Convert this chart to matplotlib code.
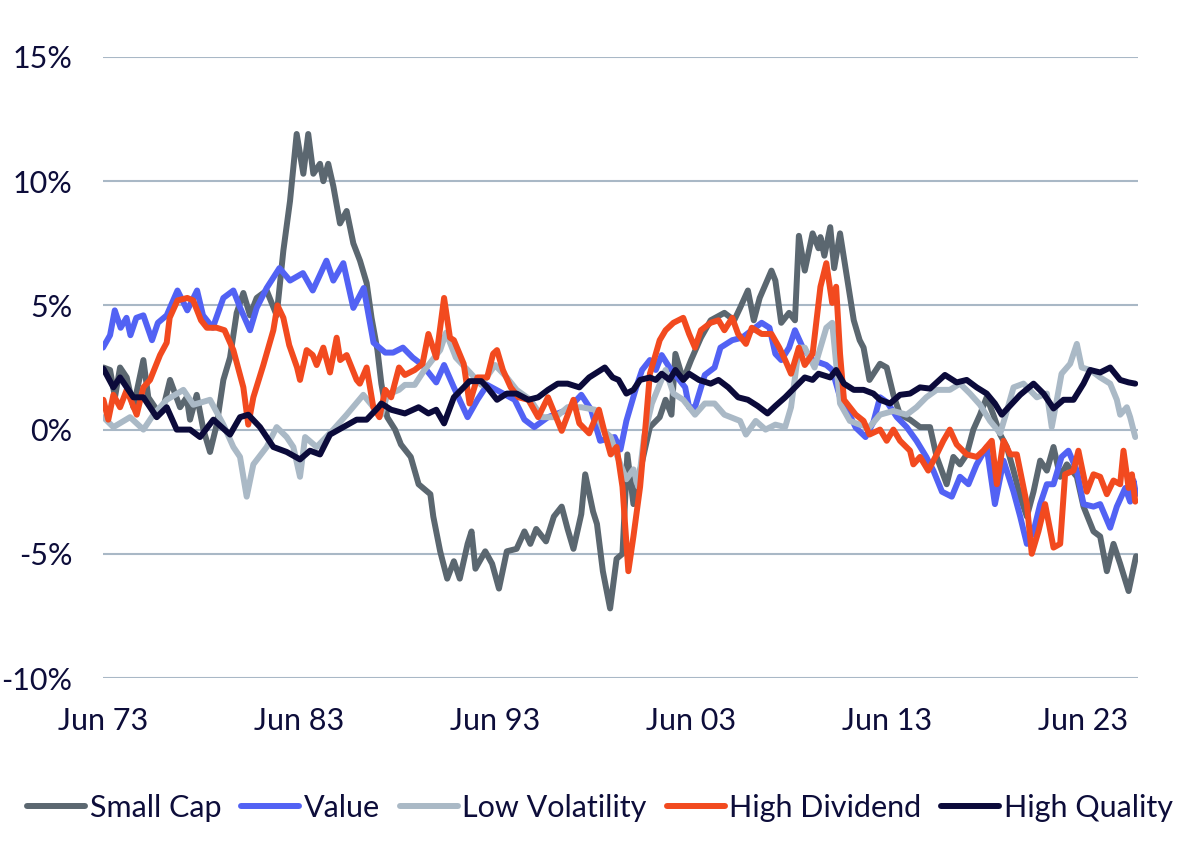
import matplotlib
matplotlib.use("Agg")
import matplotlib.pyplot as plt
from matplotlib.ticker import FuncFormatter

plt.rcParams['font.family'] = ['Lato', 'DejaVu Sans']

# rolling relative returns (x = year, y = %)
small_cap_x = [1973.52, 1973.86, 1974.11, 1974.37, 1974.71, 1975.05, 1975.56, 1975.81, 1976.24, 1976.58,
               1976.92, 1977.43, 1977.77, 1977.94, 1978.28, 1978.62, 1978.96, 1979.3, 1979.64, 1979.98,
               1980.32, 1980.66, 1981.0, 1981.34, 1981.85, 1982.36, 1982.7, 1983.04, 1983.38, 1983.72,
               1983.97, 1984.23, 1984.57, 1984.74, 1984.99, 1985.25, 1985.59, 1985.93, 1986.27, 1986.61,
               1986.95, 1987.2, 1987.5, 1987.7, 1988.0, 1988.4, 1988.7, 1989.2, 1989.6, 1990.2,
               1990.35, 1990.7, 1991.06, 1991.4, 1991.7, 1992.1, 1992.3, 1992.5, 1993.0, 1993.35,
               1993.7, 1994.1, 1994.6, 1995.0, 1995.3, 1995.6, 1996.1, 1996.5, 1996.9, 1997.2,
               1997.5, 1997.9, 1998.1, 1998.5, 1998.7, 1999.0, 1999.37, 1999.7, 2000.0, 2000.25,
               2000.56, 2000.9, 2001.4, 2001.9, 2002.2, 2002.5, 2002.7, 2003.1, 2003.5, 2004.0,
               2004.5, 2005.2, 2005.7, 2006.0, 2006.4, 2006.7, 2007.0, 2007.6, 2007.8, 2008.1,
               2008.5, 2008.8, 2009.0, 2009.3, 2009.7, 2010.0, 2010.1, 2010.3, 2010.6, 2010.8,
               2011.1, 2011.5, 2011.8, 2012.1, 2012.3, 2012.6, 2013.14, 2013.48, 2013.82, 2014.16,
               2014.67, 2015.18, 2015.69, 2016.03, 2016.54, 2016.88, 2017.22, 2017.56, 2017.9, 2018.24,
               2018.58, 2018.92, 2019.27, 2019.61, 2019.95, 2020.29, 2020.63, 2020.97, 2021.31, 2021.65,
               2021.99, 2022.33, 2022.67, 2023.18, 2023.52, 2024.03, 2024.37, 2024.71, 2025.05, 2025.39,
               2025.82, 2026.2]
small_cap_y = [2.5, 2.4, 1.3, 2.5, 2.1, 0.9, 2.8, 1.3, 0.8, 0.9,
               2.0, 0.9, 1.3, 0.4, 1.4, 0.0, -0.9, 0.2, 2.0, 2.9,
               4.7, 5.5, 4.6, 5.3, 5.6, 4.6, 7.2, 9.2, 11.9, 10.3,
               11.9, 10.3, 10.7, 10.0, 10.7, 9.8, 8.3, 8.8, 7.5, 6.8,
               5.9, 4.5, 3.2, 1.85, 0.5, 0.0, -0.6, -1.1, -2.2, -2.6,
               -3.5, -4.9, -6.0, -5.3, -6.0, -4.6, -4.1, -5.6, -4.9, -5.4,
               -6.4, -4.9, -4.8, -4.1, -4.6, -4.0, -4.5, -3.5, -3.1, -4.0,
               -4.8, -3.4, -1.8, -3.3, -3.8, -5.7, -7.2, -5.2, -5.0, -1.0,
               -3.0, -1.65, 0.1, 0.5, 1.2, 0.6, 3.05, 2.0, 2.8, 3.7,
               4.4, 4.7, 4.4, 4.9, 5.6, 4.4, 5.3, 6.4, 6.0, 4.3,
               4.7, 4.4, 7.8, 6.4, 7.9, 7.3, 7.75, 7.0, 8.15, 6.5,
               7.9, 5.9, 4.4, 3.6, 3.3, 2.0, 2.65, 2.5, 1.4, 0.6,
               0.4, 0.1, 0.1, -1.1, -2.2, -1.1, -1.4, -1.0, 0.0, 0.6,
               1.3, 0.6, -0.2, -0.7, -1.65, -2.7, -3.5, -2.5, -1.25, -1.65,
               -0.7, -1.9, -1.4, -1.9, -3.1, -4.1, -4.3, -5.7, -4.6, -5.4,
               -6.5, -5.1]

value_x = [1973.5, 1973.86, 1974.1, 1974.4, 1974.7, 1974.9, 1975.2, 1975.56, 1976.0, 1976.3,
           1976.75, 1977.3, 1977.8, 1978.3, 1978.6, 1979.1, 1979.64, 1980.15, 1980.5, 1981.0,
           1981.34, 1981.85, 1982.5, 1983.04, 1983.7, 1984.2, 1984.9, 1985.25, 1985.76, 1986.27,
           1986.8, 1987.3, 1987.9, 1988.3, 1988.8, 1989.3, 1989.8, 1990.5, 1990.9, 1991.4,
           1992.1, 1992.6, 1993.1, 1993.8, 1994.5, 1995.0, 1995.5, 1996.2, 1997.2, 1997.9,
           1998.4, 1998.86, 1999.1, 1999.6, 1999.9, 2000.2, 2000.7, 2001.0, 2001.4, 2001.7,
           2002.0, 2002.4, 2002.9, 2003.2, 2003.4, 2003.7, 2004.2, 2004.7, 2005.0, 2005.6,
           2006.1, 2006.6, 2007.1, 2007.5, 2007.8, 2008.1, 2008.5, 2008.8, 2009.2, 2009.7,
           2010.4, 2010.7, 2011.1, 2011.4, 2011.9, 2012.4, 2012.8, 2013.14, 2013.5, 2014.0,
           2014.5, 2015.0, 2015.5, 2015.86, 2016.3, 2016.8, 2017.22, 2017.65, 2018.07, 2018.58,
           2019.0, 2019.44, 2019.95, 2020.29, 2020.63, 2020.97, 2021.31, 2021.65, 2021.99, 2022.4,
           2022.75, 2023.18, 2023.52, 2024.03, 2024.37, 2024.88, 2025.22, 2025.65, 2025.9, 2026.07,
           2026.2]
value_y = [3.3, 3.8, 4.8, 4.1, 4.5, 3.8, 4.5, 4.6, 3.6, 4.3,
           4.6, 5.6, 4.8, 5.6, 4.6, 4.1, 5.3, 5.6, 4.9, 4.0,
           4.9, 5.7, 6.5, 6.0, 6.3, 5.6, 6.8, 6.0, 6.7, 4.9,
           5.7, 3.5, 3.1, 3.1, 3.3, 2.9, 2.6, 1.9, 2.6, 1.7,
           0.5, 1.2, 1.8, 1.5, 1.2, 0.4, 0.1, 0.5, 0.8, 1.4,
           0.8, -0.45, -0.4, -0.3, -0.8, 0.35, 1.7, 2.4, 2.8, 2.4,
           3.0, 2.5, 2.0, 1.7, 0.9, 0.9, 2.2, 2.5, 3.3, 3.6,
           3.7, 4.0, 4.3, 4.1, 3.05, 2.8, 3.3, 4.0, 3.3, 2.8,
           2.6, 2.4, 1.3, 0.9, 0.08, -0.3, 0.3, 1.3, 1.1, 0.5,
           0.1, -0.45, -1.1, -1.65, -2.5, -2.7, -1.9, -2.2, -1.4, -0.7,
           -3.0, -1.25, -2.5, -3.5, -4.6, -4.1, -3.0, -2.2, -2.2, -1.1,
           -0.85, -1.65, -3.0, -3.1, -3.0, -3.95, -3.1, -2.35, -2.9, -2.05,
           -2.6]

low_vol_x = [1973.52, 1974.03, 1974.88, 1975.56, 1976.07, 1976.75, 1977.6, 1978.11, 1978.96, 1979.64,
             1980.15, 1980.49, 1980.83, 1981.17, 1981.85, 1982.36, 1982.87, 1983.21, 1983.55, 1983.81,
             1984.4, 1985.25, 1985.93, 1986.78, 1987.3, 1987.7, 1988.0, 1988.6, 1988.9, 1989.4,
             1989.9, 1990.7, 1991.0, 1991.5, 1992.1, 1992.8, 1993.5, 1994.1, 1994.6, 1995.3,
             1995.9, 1996.6, 1997.2, 1997.9, 1998.6, 1999.0, 1999.4, 1999.7, 2000.2, 2000.56,
             2000.8, 2001.1, 2001.5, 2002.2, 2002.6, 2003.1, 2003.7, 2004.2, 2004.7, 2005.2,
             2006.0, 2006.3, 2006.8, 2007.3, 2007.8, 2008.3, 2008.6, 2009.0, 2009.3, 2009.8,
             2010.4, 2010.7, 2011.1, 2011.6, 2012.1, 2012.6, 2013.14, 2013.82, 2014.5, 2015.0,
             2015.5, 2016.03, 2016.7, 2017.22, 2017.73, 2018.24, 2018.75, 2019.27, 2019.61, 2019.95,
             2020.46, 2021.14, 2021.65, 2021.9, 2022.16, 2022.4, 2022.84, 2023.18, 2023.43, 2023.86,
             2024.37, 2024.88, 2025.22, 2025.39, 2025.73, 2025.9, 2026.16]
low_vol_y = [0.5, 0.1, 0.5, 0.0, 0.6, 1.2, 1.6, 1.0, 1.2, 0.2,
             -0.7, -1.1, -2.7, -1.4, -0.7, 0.1, -0.3, -0.7, -1.9, -0.3,
             -0.7, 0.0, 0.6, 1.4, 0.9, 0.6, 1.4, 1.6, 1.8, 1.8,
             2.4, 3.2, 3.9, 2.9, 2.4, 1.8, 2.6, 2.1, 1.6, 1.2,
             0.5, 0.5, 0.9, 0.9, 0.8, 0.0, -0.3, -1.0, -2.0, -1.6,
             -2.3, -0.3, 1.05, 2.4, 1.45, 1.2, 0.6, 1.05, 1.05, 0.6,
             0.35, -0.2, 0.35, 0.0, 0.2, 0.1, 0.9, 3.3, 3.3, 2.5,
             4.1, 4.3, 1.05, 0.35, 0.2, 0.1, 0.6, 0.75, 0.6, 0.9,
             1.3, 1.6, 1.6, 1.85, 1.45, 1.0, 0.35, -0.15, 0.75, 1.7,
             1.85, 1.3, 1.45, 0.1, 1.2, 2.25, 2.65, 3.45, 2.5, 2.4,
             2.1, 1.85, 1.2, 0.6, 0.9, 0.5, -0.3]

high_div_x = [1973.52, 1973.77, 1974.03, 1974.37, 1974.71, 1975.22, 1975.56, 1975.9, 1976.41, 1976.75,
              1976.9, 1977.3, 1977.8, 1978.1, 1978.5, 1978.8, 1979.3, 1979.7, 1980.15, 1980.66,
              1980.91, 1981.17, 1981.68, 1982.19, 1982.4, 1982.7, 1983.0, 1983.4, 1983.55, 1983.89,
              1984.2, 1984.4, 1984.74, 1985.08, 1985.42, 1985.6, 1985.93, 1986.44, 1986.6, 1986.95,
              1987.29, 1987.6, 1987.9, 1988.2, 1988.6, 1988.9, 1989.4, 1989.8, 1990.1, 1990.5,
              1990.9, 1991.2, 1991.4, 1991.9, 1992.2, 1992.6, 1993.1, 1993.4, 1993.6, 1993.9,
              1994.3, 1994.7, 1995.2, 1995.7, 1996.2, 1996.9, 1997.5, 1997.8, 1998.3, 1998.8,
              1999.1, 1999.4, 1999.7, 2000.0, 2000.3, 2000.56, 2000.9, 2001.2, 2001.4, 2001.7,
              2001.9, 2002.2, 2002.6, 2003.1, 2003.4, 2003.7, 2004.0, 2004.5, 2004.9, 2005.2,
              2005.6, 2005.9, 2006.3, 2006.6, 2007.1, 2007.6, 2008.0, 2008.3, 2008.6, 2009.0,
              2009.3, 2009.7, 2010.1, 2010.4, 2010.7, 2010.9, 2011.1, 2011.3, 2011.6, 2011.9,
              2012.3, 2012.6, 2013.14, 2013.48, 2013.82, 2014.16, 2014.67, 2014.84, 2015.18, 2015.6,
              2016.03, 2016.37, 2016.7, 2017.05, 2017.56, 2018.07, 2018.41, 2018.84, 2019.1, 2019.44,
              2019.78, 2020.12, 2020.63, 2020.88, 2021.22, 2021.56, 2021.99, 2022.33, 2022.58, 2023.01,
              2023.26, 2023.69, 2024.03, 2024.37, 2024.71, 2025.05, 2025.39, 2025.56, 2025.82, 2025.99,
              2026.16]
high_div_y = [1.2, 0.4, 1.4, 0.9, 1.6, 0.6, 1.7, 2.0, 3.0, 3.5,
              4.5, 5.2, 5.3, 5.2, 4.4, 4.1, 4.1, 4.0, 3.2, 1.7,
              0.2, 1.3, 2.6, 4.0, 5.0, 4.5, 3.4, 2.5, 2.0, 3.2,
              3.0, 2.6, 3.3, 2.3, 3.7, 2.8, 3.0, 2.0, 1.85, 2.5,
              0.9, 0.5, 1.6, 1.3, 2.5, 2.2, 2.4, 2.65, 3.85, 2.9,
              5.3, 3.7, 3.6, 2.65, 1.05, 2.1, 2.1, 3.05, 3.2, 2.4,
              1.7, 1.3, 1.2, 0.5, 1.3, -0.05, 1.2, 0.25, -0.15, 0.8,
              -0.15, -1.0, -0.7, -2.3, -5.7, -4.3, -2.3, 0.35, 2.25, 3.05,
              3.6, 4.0, 4.3, 4.5, 3.85, 3.3, 4.0, 4.3, 4.4, 4.0,
              4.5, 3.85, 3.45, 4.1, 3.85, 3.85, 3.3, 2.8, 2.25, 3.3,
              2.6, 3.05, 5.75, 6.7, 5.1, 5.75, 3.05, 1.2, 0.9, 0.6,
              0.35, -0.2, 0.0, -0.45, 0.0, -0.45, -0.85, -1.4, -1.1, -1.65,
              -1.0, -0.45, 0.0, -0.6, -1.0, -1.1, -0.85, -0.45, -2.2, -0.45,
              -1.0, -1.0, -3.0, -5.0, -4.1, -3.0, -4.75, -4.6, -1.8, -1.65,
              -0.85, -2.5, -1.8, -1.9, -2.6, -2.05, -2.2, -0.85, -2.35, -1.8,
              -2.9]

high_quality_x = [1973.52, 1974.03, 1974.37, 1975.05, 1975.56, 1976.24, 1976.75, 1977.26, 1977.94, 1978.45,
                  1979.13, 1979.98, 1980.49, 1980.91, 1981.51, 1982.19, 1982.87, 1983.55, 1984.06, 1984.57,
                  1985.08, 1985.76, 1986.44, 1986.95, 1987.55, 1987.7, 1988.2, 1988.9, 1989.6, 1990.1,
                  1990.5, 1990.9, 1991.4, 1991.9, 1992.2, 1992.8, 1993.1, 1993.6, 1994.1, 1994.6,
                  1995.2, 1995.7, 1996.2, 1996.7, 1997.2, 1997.8, 1998.3, 1998.8, 1999.1, 1999.5,
                  1999.8, 2000.2, 2000.56, 2000.9, 2001.4, 2001.7, 2002.0, 2002.4, 2002.7, 2003.1,
                  2003.4, 2003.9, 2004.5, 2004.9, 2005.4, 2005.9, 2006.4, 2006.9, 2007.4, 2007.8,
                  2008.3, 2008.8, 2009.3, 2009.7, 2010.0, 2010.6, 2010.9, 2011.3, 2011.8, 2012.3,
                  2012.8, 2013.14, 2013.65, 2014.16, 2014.67, 2015.18, 2015.69, 2016.45, 2017.05, 2017.56,
                  2018.07, 2018.58, 2019.0, 2019.35, 2019.7, 2020.29, 2020.97, 2021.48, 2021.99, 2022.5,
                  2023.01, 2023.52, 2023.86, 2024.37, 2024.88, 2025.39, 2025.82, 2026.16]
high_quality_y = [2.45, 1.7, 2.1, 1.3, 1.3, 0.5, 0.9, 0.0, 0.0, -0.3,
                  0.4, -0.2, 0.5, 0.6, 0.1, -0.7, -0.9, -1.2, -0.85, -1.0,
                  -0.2, 0.1, 0.4, 0.4, 0.9, 1.05, 0.8, 0.65, 0.9, 0.65,
                  0.8, 0.25, 1.3, 1.7, 1.95, 1.95, 1.7, 1.2, 1.45, 1.45,
                  1.2, 1.3, 1.6, 1.85, 1.85, 1.7, 2.1, 2.35, 2.5, 2.1,
                  2.0, 1.45, 1.6, 2.0, 2.1, 2.0, 2.25, 2.0, 2.4, 2.0,
                  2.25, 2.0, 1.85, 2.0, 1.7, 1.3, 1.2, 0.95, 0.65, 0.95,
                  1.3, 1.7, 2.1, 2.0, 2.25, 2.1, 2.4, 1.85, 1.6, 1.6,
                  1.45, 1.2, 1.05, 1.4, 1.45, 1.7, 1.65, 2.2, 1.9, 2.0,
                  1.7, 1.45, 1.05, 0.6, 0.9, 1.4, 1.85, 1.45, 0.85, 1.2,
                  1.2, 1.85, 2.4, 2.3, 2.5, 2.0, 1.9, 1.85]

tick_years = [1973.5, 1983.5, 1993.5, 2003.5, 2013.5, 2023.5]
tick_labels = ["Jun 73", "Jun 83", "Jun 93", "Jun 03", "Jun 13", "Jun 23"]

text_col = "#0d0d3a"
grid_col = "#a9b8c6"

fig = plt.figure(figsize=(12, 8.49), dpi=100)
ax = fig.add_axes([103 / 1200, 1 - 678 / 849, (1138 - 103) / 1200, (678 - 57) / 849])

lw = 4.3
ax.plot(small_cap_x, small_cap_y, color="#5b6770", lw=lw, label="Small Cap", solid_capstyle="round")
ax.plot(value_x, value_y, color="#5262f4", lw=lw, label="Value", solid_capstyle="round")
ax.plot(low_vol_x, low_vol_y, color="#aab9c6", lw=lw, label="Low Volatility", solid_capstyle="round")
ax.plot(high_div_x, high_div_y, color="#f24a1f", lw=lw, label="High Dividend", solid_capstyle="round")
ax.plot(high_quality_x, high_quality_y, color="#0b0a3a", lw=lw, label="High Quality", solid_capstyle="round")

ax.set_xlim(1973.5, 2026.3)
ax.set_ylim(-10, 15)
ax.set_yticks([-10, -5, 0, 5, 10, 15])
ax.yaxis.set_major_formatter(FuncFormatter(lambda v, p: f"{v:.0f}%"))
ax.set_xticks(tick_years)
ax.set_xticklabels(tick_labels)
ax.grid(axis="y", color=grid_col, lw=1.5)
ax.set_axisbelow(True)
for s in ax.spines.values():
    s.set_visible(False)
ax.tick_params(axis="both", length=0, labelsize=22, colors=text_col)
ax.tick_params(axis="y", pad=22)
ax.tick_params(axis="x", pad=21)

leg = fig.legend(loc="center", bbox_to_anchor=(0.5, 1 - 808 / 849), ncol=5, frameon=False,
                 fontsize=22, handlelength=1.9, handletextpad=0.15, columnspacing=0.65)
for t in leg.get_texts():
    t.set_color(text_col)

fig.savefig("out.png", dpi=100)
